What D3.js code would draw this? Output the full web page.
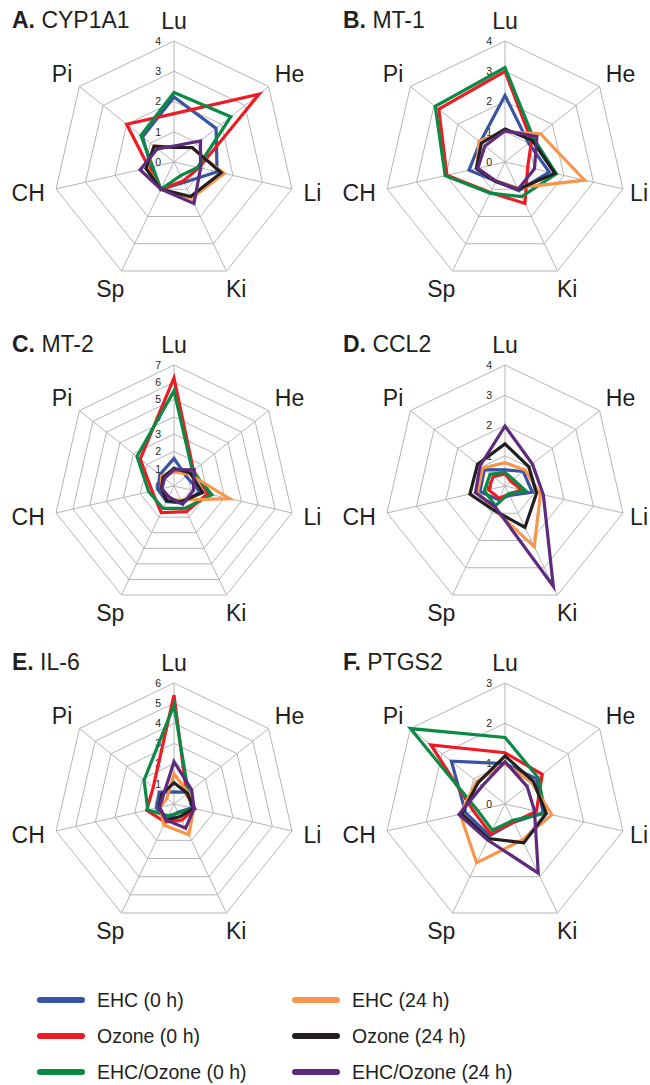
<!DOCTYPE html>
<html><head><meta charset="utf-8">
<script src="https://cdn.jsdelivr.net/npm/d3@7"></script>
<style>
body{margin:0;background:#fff}
svg{display:block}
text{font-family:"Liberation Sans",Arial,Helvetica,sans-serif;fill:#231f20}
</style>
</head><body>
<svg id="chart" width="650" height="1085"></svg>
<script>
// ---- data ----
const axes = ["Lu","He","Li","Ki","Sp","CH","Pi"];
const seriesNames = ["EHC (0 h)","Ozone (0 h)","EHC/Ozone (0 h)","EHC (24 h)","Ozone (24 h)","EHC/Ozone (24 h)"];
const seriesColors = ["#3953a4","#ed1c24","#0b8a45","#f7964a","#231f20","#5e2a7e"];
const panelLetters = ["A.","B.","C.","D.","E.","F."];
const panelGenes = ["CYP1A1","MT-1","MT-2","CCL2","IL-6","PTGS2"];
const panelMax = [4,4,7,4,6,3];

// values per series, in axis order Lu, He, Li, Ki, Sp, CH, Pi
const cyp1a1 = [
  [2.15, 1.78, 1.46, 0.75, 1.0, 0.77, 1.33],
  [1.6, 3.6, 0.85, 0.7, 1.0, 0.85, 2.0],
  [2.3, 2.4, 0.8, 0.5, 1.0, 0.72, 1.4],
  [0.5, 0.75, 1.7, 1.33, 1.0, 0.92, 0.84],
  [0.48, 0.77, 1.6, 1.27, 1.0, 0.95, 0.84],
  [0.53, 1.12, 0.9, 1.52, 1.0, 1.15, 0.7]
];
const mt1 = [
  [2.2, 1.0, 1.5, 1.05, 0.7, 1.22, 1.05],
  [3.0, 1.12, 0.77, 1.52, 1.12, 1.97, 2.8],
  [3.12, 1.22, 1.74, 1.27, 1.14, 2.03, 2.95],
  [1.0, 1.5, 2.7, 0.95, 0.7, 0.95, 1.1],
  [1.09, 1.15, 1.69, 1.0, 0.72, 0.97, 1.0],
  [1.03, 1.35, 1.0, 1.0, 0.7, 0.92, 0.85]
];
const mt2 = [
  [1.6, 0.9, 1.55, 1.1, 1.0, 0.95, 1.05],
  [6.25, 1.44, 2.0, 1.65, 1.71, 1.3, 2.5],
  [5.5, 1.37, 2.25, 1.44, 1.44, 1.5, 2.74],
  [0.8, 1.12, 3.3, 0.9, 0.9, 0.75, 0.92],
  [1.03, 1.2, 1.7, 1.0, 0.95, 0.75, 0.8],
  [0.95, 1.5, 1.15, 1.17, 0.7, 0.72, 0.7]
];
const ccl2 = [
  [0.53, 0.77, 0.93, 0.35, 0.5, 0.85, 0.87],
  [0.4, 0.25, 0.56, 0.3, 0.45, 0.56, 0.5],
  [0.45, 0.35, 0.7, 0.28, 0.73, 0.7, 0.63],
  [0.77, 0.85, 1.2, 2.23, 0.85, 0.93, 0.95],
  [1.39, 1.01, 1.07, 1.52, 0.88, 1.19, 1.16],
  [1.98, 1.16, 1.3, 3.68, 0.76, 1.0, 1.06]
];
const il6 = [
  [0.6, 0.93, 0.9, 0.45, 0.88, 0.88, 0.93],
  [5.4, 0.8, 1.07, 0.88, 1.0, 1.39, 1.32],
  [4.9, 0.91, 1.0, 0.5, 0.65, 1.33, 1.9],
  [1.5, 0.9, 1.0, 1.7, 1.16, 0.7, 0.45],
  [1.05, 0.85, 1.0, 0.69, 0.9, 0.75, 0.78],
  [2.1, 1.12, 1.02, 1.33, 0.88, 0.74, 0.68]
];
const ptgs2 = [
  [1.0, 1.0, 0.97, 0.5, 0.87, 1.0, 1.7],
  [1.27, 1.18, 0.8, 0.5, 0.82, 0.8, 2.35],
  [1.65, 1.05, 1.03, 0.45, 0.72, 0.7, 3.0],
  [1.0, 0.85, 1.19, 0.99, 1.62, 1.14, 0.9],
  [1.19, 0.9, 1.05, 1.07, 0.95, 1.1, 0.85],
  [1.05, 0.7, 0.75, 1.9, 0.99, 1.17, 0.72]
];
const panelData = [cyp1a1, mt1, mt2, ccl2, il6, ptgs2];

// ---- layout ----
const W = 650;
const svg = d3.select("#chart");
const R = 121;
const colX = [174, 505];
const rowY = [162, 486, 804];
const angle = d3.scaleLinear().domain([0, axes.length]).range([0, 2 * Math.PI]);

panelData.forEach((data, p) => {
  const cx = colX[p % 2], cy = rowY[Math.floor(p / 2)];
  const max = panelMax[p];
  const r = d3.scaleLinear().domain([0, max]).range([0, R]);
  const g = svg.append("g").attr("transform", `translate(${cx},${cy})`);
  const radial = d3.lineRadial()
    .angle((d, i) => angle(i))
    .radius(d => r(d))
    .curve(d3.curveLinearClosed);

  // grid rings
  g.selectAll("path.ring").data(d3.range(1, max + 1)).enter().append("path")
    .attr("class", "ring")
    .attr("d", t => radial(axes.map(() => t)))
    .attr("fill", "none").attr("stroke", "#b5b5b5").attr("stroke-width", 1);
  // spokes
  g.selectAll("line.spoke").data(axes).enter().append("line")
    .attr("x1", 0).attr("y1", 0)
    .attr("x2", (d, i) => r(max) * Math.sin(angle(i)))
    .attr("y2", (d, i) => -r(max) * Math.cos(angle(i)))
    .attr("stroke", "#b5b5b5").attr("stroke-width", 1);

  // tick labels
  g.selectAll("text.tick").data(d3.range(0, max + 1)).enter().append("text")
    .attr("x", -13).attr("y", t => -r(t)).attr("dy", "0.36em")
    .attr("text-anchor", "end").attr("font-size", 10.5)
    .text(t => t);

  // series
  data.forEach((vals, s) => {
    g.append("path")
      .attr("d", radial(vals))
      .attr("fill", "none")
      .attr("stroke", seriesColors[s])
      .attr("stroke-width", 3.2)
      .attr("stroke-linejoin", "miter");
  });

  // axis labels
  axes.forEach((name, i) => {
    const a = angle(i), sn = Math.sin(a), cs = Math.cos(a);
    const d = R + 12;
    const t = g.append("text").attr("font-size", 23).attr("text-anchor", "middle").text(name);
    const w = t.node().getComputedTextLength();
    let x = d * sn + sn * w / 2;
    // keep inside the picture
    x = Math.min(x, W - 2 - cx - w / 2);
    const yc = -d * cs - cs * 8;
    t.attr("x", x).attr("y", yc + 8);
  });

  // title
  const title = svg.append("text")
    .attr("x", cx - 162).attr("y", cy - 134)
    .attr("font-size", 23);
  title.append("tspan").attr("font-weight", "bold").text(panelLetters[p]);
  title.append("tspan").text(" " + panelGenes[p]);
});

// ---- legend ----
const legRowY = [1000, 1036, 1072];
const legColX = [40, 295];
seriesNames.forEach((name, s) => {
  const col = Math.floor(s / 3), row = s % 3;
  const x = legColX[col], y = legRowY[row];
  svg.append("line")
    .attr("x1", x).attr("x2", x + 42).attr("y1", y).attr("y2", y)
    .attr("stroke", seriesColors[s]).attr("stroke-width", 6).attr("stroke-linecap", "round");
  svg.append("text")
    .attr("x", x + 57).attr("y", y + 7)
    .attr("font-size", 19.5)
    .text(name);
});
</script>
</body></html>
